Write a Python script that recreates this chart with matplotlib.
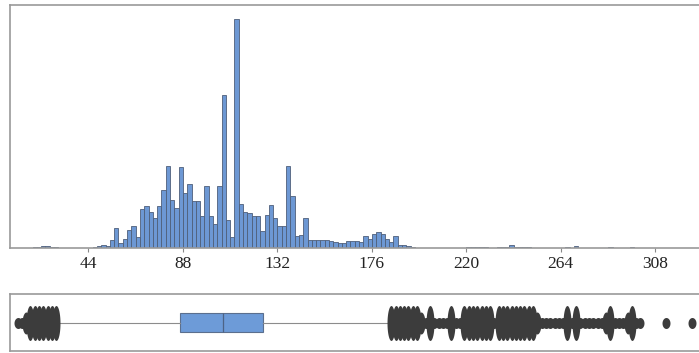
import numpy as np
import matplotlib.pyplot as plt

# histogram : classes de largeur 2, à partir de 10.2
bin_start = 10.2
bin_width = 2.0

# effectifs par classe
left_tail = [1, 1, 2, 3, 6, 8, 10, 10, 8, 6,
             2, 1, 1, 1, 1, 1, 1, 3, 6, 12, 18, 12]
main = [48, 120, 30, 54, 108, 132, 66, 234, 252, 216,
        180, 252, 348, 492, 288, 240, 486, 330, 384, 282,
        282, 192, 372, 192, 144, 372, 918, 168, 66, 1374,
        264, 216, 210, 192, 192, 102, 198, 258, 180, 132,
        132, 492, 312, 72, 78, 180, 48, 48, 48, 48,
        48, 42, 36, 30, 30, 42, 42, 42, 36, 72,
        54, 84, 96, 84, 54, 36, 72, 18, 18, 12]
right_tail = [6, 3, 2, 1, 3, 1, 1, 1, 1, 3,
              1, 1, 3, 5, 7, 6, 5, 4, 3, 1,
              4, 5, 5, 18, 8, 6, 5, 4, 3, 2,
              1, 1, 1, 1, 1, 1, 4, 1, 10, 1,
              1, 1, 1, 1, 1, 2, 4, 1, 1, 1,
              2, 4, 1, 1, 0, 0, 0, 0, 0, 1,
              0, 0, 0, 0, 0, 1]

counts = np.array(left_tail + main + right_tail)
edges = bin_start + bin_width * np.arange(len(counts) + 1)
centers = (edges[:-1] + edges[1:]) / 2

# statistiques de la boîte
q1, med, q3 = 86.8, 106.7, 125.6
whis_lo, whis_hi = 31.2, 183.2

tick_vals = [44, 88, 132, 176, 220, 264, 308]

# valeurs aberrantes : classes hors moustaches
out = ((centers < whis_lo) | (centers > whis_hi)) & (counts > 0)
flier_x = centers[out]
flier_n = counts[out]

W, H = 699, 353
fig = plt.figure(figsize=(W / 100, H / 100), dpi=100)
ax1 = fig.add_axes([10 / W, 1 - 248 / H, 690 / W, 243 / H])
ax2 = fig.add_axes([10 / W, 1 - 351 / H, 690 / W, 57 / H])

xmin, xmax = 7.7, 328.9

# histogramme
ax1.hist(centers, bins=edges, weights=counts, color='#6d98d4',
         edgecolor='#4f5f7a', linewidth=0.6)
ax1.set_xlim(xmin, xmax)
ax1.set_ylim(0, 1458)
ax1.set_yticks([])
ax1.set_xticks(tick_vals)
ax1.set_xticklabels([str(t) for t in tick_vals], family='Liberation Serif',
                    fontsize=12.5, color='#222222')
ax1.tick_params(axis='x', length=3, width=0.8, color='#888888', pad=3)

# boîte à moustaches
stats = [dict(med=med, q1=q1, q3=q3, whislo=whis_lo, whishi=whis_hi)]
ax2.bxp(stats, positions=[0], orientation='horizontal', widths=0.34,
        patch_artist=True, showcaps=False, showfliers=False,
        boxprops=dict(facecolor='#6d9bd8', edgecolor='#5b6f8e', linewidth=0.8),
        medianprops=dict(color='#4d6385', linewidth=0.9),
        whiskerprops=dict(color='#8c8c8c', linewidth=0.8))

# points aberrants : plus ils sont nombreux, plus la tache est haute
t = np.linspace(0, 2 * np.pi, 41)
for lo, hi, hpx in [(1, 1, 11), (2, 2, 22), (3, 10**6, 35)]:
    sel = (flier_n >= lo) & (flier_n <= hi)
    verts = np.column_stack([8.0 / hpx * np.cos(t), np.sin(t)])
    ax2.plot(flier_x[sel], np.zeros(sel.sum()), ls='none', marker=verts,
             markersize=hpx * 0.72, markerfacecolor='#3c3c3c',
             markeredgecolor='none')

ax2.set_xlim(xmin, xmax)
ax2.set_ylim(-0.5, 0.5)
ax2.set_xticks([])
ax2.set_yticks([])

for ax in (ax1, ax2):
    for s in ax.spines.values():
        s.set_color('#999999')
        s.set_linewidth(1.2)

fig.savefig('out.png', dpi=100)
